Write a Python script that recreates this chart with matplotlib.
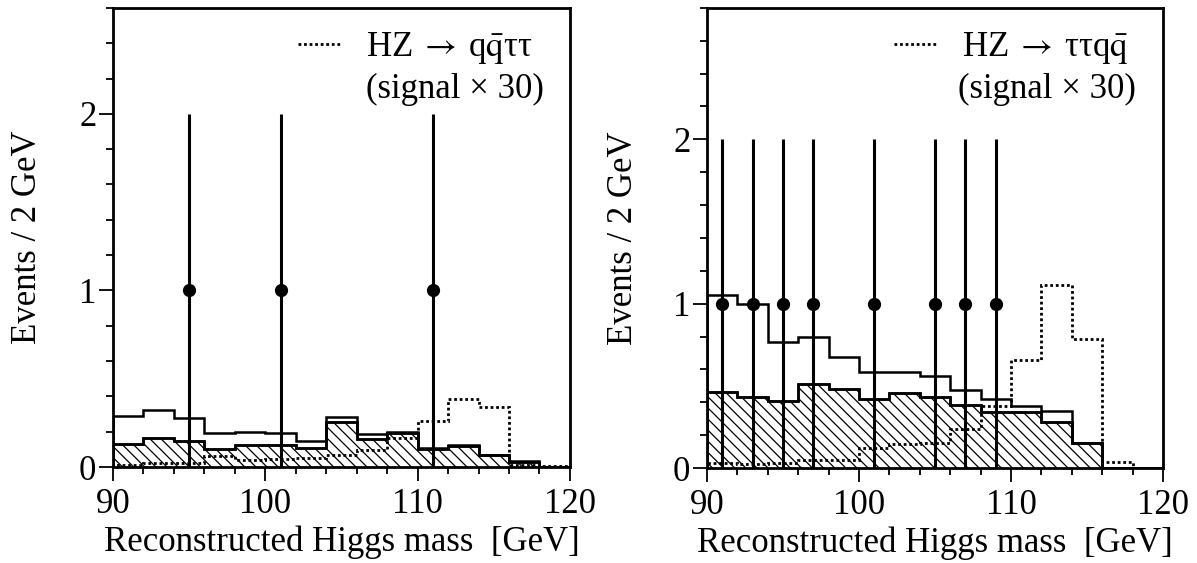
# -*- coding: UTF-8 -*-
import numpy as np
import matplotlib
matplotlib.use("Agg")
import matplotlib.pyplot as plt
import matplotlib as mpl
from matplotlib.ticker import MultipleLocator

mpl.rcParams['font.family'] = ['Liberation Serif', 'DejaVu Serif']
mpl.rcParams['mathtext.fontset'] = 'stix'
mpl.rcParams['hatch.linewidth'] = 0.9
mpl.rcParams['axes.linewidth'] = 2.0

# bin edges, 2 GeV bins from 90 to 120
edges = np.arange(90, 122, 2)

# left panel: HZ -> qq tautau
left_total = [0.29, 0.325, 0.28, 0.19, 0.20, 0.19, 0.15, 0.285, 0.187, 0.20,
              0.11, 0.127, 0.07, 0.032, 0.0]
left_bkg = [0.13, 0.166, 0.15, 0.10, 0.127, 0.127, 0.11, 0.255, 0.16, 0.193,
            0.10, 0.12, 0.066, 0.03, 0.0]
left_sig = [0.01, 0.023, 0.02, 0.064, 0.04, 0.045, 0.05, 0.07, 0.098, 0.164,
            0.26, 0.385, 0.34, 0.013, 0.005]
left_data_x = [95, 101, 111]
left_data_y = [1, 1, 1]

# right panel: HZ -> tautau qq
right_total = [1.055, 0.998, 0.767, 0.80, 0.676, 0.583, 0.587, 0.557, 0.474,
               0.417, 0.379, 0.348, 0.152, 0.0, 0.0]
right_bkg = [0.46, 0.433, 0.407, 0.512, 0.48, 0.419, 0.457, 0.431, 0.383,
             0.338, 0.338, 0.279, 0.152, 0.0, 0.0]
right_sig = [0.032, 0.022, 0.028, 0.05, 0.05, 0.12, 0.146, 0.154, 0.235,
             0.377, 0.656, 1.113, 0.787, 0.034, 0.0]
right_data_x = [91, 93, 95, 97, 101, 105, 107, 109]
right_data_y = [1, 1, 1, 1, 1, 1, 1, 1]

fs = 25


def plotPanel(ax, total, bkg, sig, dx, dy, ymax, label, legx, sigx):
    ax.stairs(bkg, edges, fill=True, facecolor='none', edgecolor='black',
              hatch='\\\\\\', linewidth=1.8)
    ax.stairs(bkg, edges, color='black', linewidth=1.8)
    ax.stairs(total, edges, color='black', linewidth=1.8)
    ax.stairs(sig, edges, color='black', linewidth=2.0, linestyle=(0, (1, 1)),
              label=label)
    ax.errorbar(dx, dy, yerr=np.sqrt(dy), fmt='o', color='black',
                markersize=8.5, elinewidth=2.2, capsize=0, zorder=5)
    ax.set_xlim(90, 120)
    ax.set_ylim(0, ymax)
    ax.xaxis.set_major_locator(MultipleLocator(10))
    ax.xaxis.set_minor_locator(MultipleLocator(2))
    ax.yaxis.set_major_locator(MultipleLocator(1))
    ax.yaxis.set_minor_locator(MultipleLocator(0.2))
    ax.tick_params(which='major', direction='out', length=10, width=1.3,
                   labelsize=fs)
    ax.tick_params(which='minor', direction='out', length=5, width=1.3)
    ax.tick_params(axis='x', which='major', pad=5)
    ax.tick_params(axis='y', which='major', pad=2)
    ax.set_xlabel('Reconstructed Higgs mass  [GeV]', fontsize=fs, labelpad=3)
    ax.set_ylabel('Events / 2 GeV', fontsize=fs)
    ax.legend(loc='center left', frameon=False, fontsize=fs,
              handlelength=1.2, handletextpad=0.75, borderpad=0,
              borderaxespad=0, bbox_to_anchor=(legx, 0.912))
    ax.text(sigx, 0.822, '(signal × 30)', transform=ax.transAxes,
            ha='left', va='center', fontsize=fs)


fig = plt.figure(figsize=(11.97, 5.63), dpi=100)
ax1 = fig.add_axes([0.0944, 0.1705, 0.3817, 0.8155])
ax2 = fig.add_axes([0.5907, 0.1687, 0.3809, 0.8173])

plotPanel(ax1, left_total, left_bkg, left_sig, left_data_x, left_data_y, 2.6,
          'HZ$\\;\\rightarrow\\;$q$\\bar{\\mathrm{q}}$ττ', 0.405, 0.553)
plotPanel(ax2, right_total, right_bkg, right_sig, right_data_x, right_data_y,
          2.8, 'HZ$\\;\\rightarrow\\;$ττq$\\bar{\\mathrm{q}}$', 0.41, 0.55)

ax1.yaxis.set_label_coords(-0.15, 0.5)
ax2.yaxis.set_label_coords(-0.147, 0.5)

plt.savefig('out.png', dpi=100)
